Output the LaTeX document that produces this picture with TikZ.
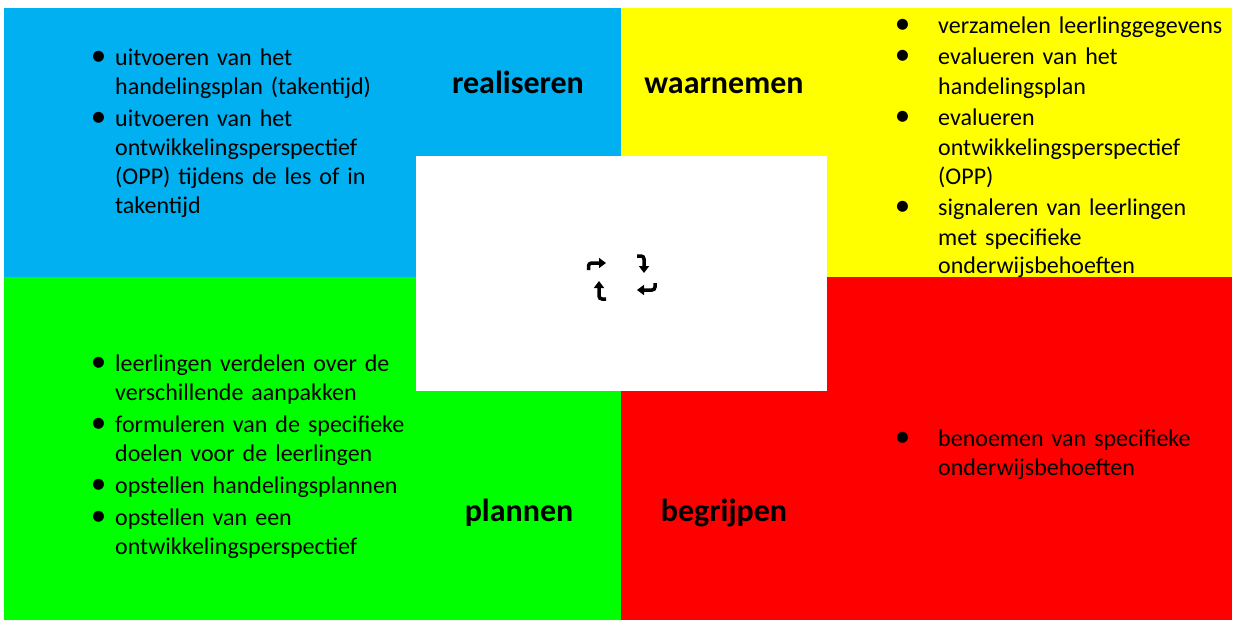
\documentclass[tikz,border=0pt]{standalone}
\usepackage{fontspec}
\setmainfont{Carlito}
\usetikzlibrary{arrows.meta}
\definecolor{realblue}{HTML}{00B0F0}
\definecolor{waaryellow}{HTML}{FFFF00}
\definecolor{plangreen}{HTML}{00FF00}
\definecolor{begred}{HTML}{FF0000}
\newcommand{\bigbul}{{\fontsize{31}{29}\selectfont\textbullet}}
\newenvironment{blist}[2]{\begin{list}{\bigbul}{\setlength{\leftmargin}{#1}\setlength{\labelsep}{#2}\setlength{\labelwidth}{\dimexpr#1-#2\relax}\setlength{\itemsep}{3pt}\setlength{\parsep}{0pt}\setlength{\topsep}{0pt}\setlength{\partopsep}{0pt}}}{\end{list}}
\tikzset{
  pnl/.style={anchor=north west, inner sep=0pt, outer sep=0pt},
  lst/.style={anchor=base west, inner sep=0pt, text width=360pt, align=left, font=\fontsize{24}{29}\selectfont},
  lbl/.style={anchor=base, inner sep=0pt, font=\fontsize{32}{38}\selectfont\bfseries},
  cyc/.style={line width=3.5pt, rounded corners=3pt, -{Triangle[length=7pt,width=10pt]}},
}
\begin{document}
\begin{tikzpicture}[x=1pt, y=-1pt]
\useasboundingbox (0,0) rectangle (1234,621);
\node[pnl, fill=realblue, minimum width=617pt, minimum height=269pt] (real) at (4,8) {};
\node[pnl, fill=waaryellow, minimum width=611pt, minimum height=269pt] (waar) at (621,8) {};
\node[pnl, fill=plangreen, minimum width=617pt, minimum height=343pt] (plan) at (4,277) {};
\node[pnl, fill=begred, minimum width=611pt, minimum height=343pt] (begr) at (621,277) {};
\node[pnl, fill=white, minimum width=411pt, minimum height=235pt] (mid) at (416,156) {};
\node[lbl] (lreal) at (518,93) {realiseren};
\node[lbl] (lwaar) at (724,93) {waarnemen};
\node[lbl] (lplan) at (519,521) {plannen};
\node[lbl] (lbegr) at (724,521) {begrijpen};
\node[lst] (treal) at (75,36) {\begin{blist}{40pt}{9pt}
  \item uitvoeren van het\\ handelingsplan (takentijd)
  \item uitvoeren van het\\ ontwikkelingsperspectief\\ (OPP) tijdens de les of in\\ takentijd
\end{blist}};
\node[lst] (twaar) at (888,4) {\begin{blist}{50pt}{28pt}
  \item verzamelen leerlinggegevens
  \item evalueren van het\\ handelingsplan
  \item evalueren\\ ontwikkelingsperspectief\\ (OPP)
  \item signaleren van leerlingen\\ met specifieke\\ onderwijsbehoeften
\end{blist}};
\node[lst] (tplan) at (75,342) {\begin{blist}{40pt}{9pt}
  \item leerlingen verdelen over de\\ verschillende aanpakken
  \item formuleren van de specifieke\\ doelen voor de leerlingen
  \item opstellen handelingsplannen
  \item opstellen van een\\ ontwikkelingsperspectief
\end{blist}};
\node[lst] (tbegr) at (888,417) {\begin{blist}{50pt}{28pt}
  \item benoemen van specifieke\\ onderwijsbehoeften
\end{blist}};
\draw[cyc] (588.5,270) -- (588.5,263) -- (606,263);
\draw[cyc] (637,256) -- (644,256) -- (644,273);
\draw[cyc] (655,283) -- (655,290) -- (637,290);
\draw[cyc] (606,299) -- (599,299) -- (599,281);
\end{tikzpicture}
\end{document}
